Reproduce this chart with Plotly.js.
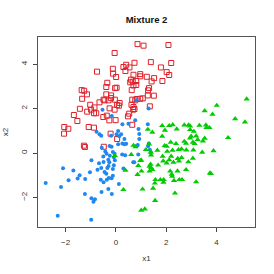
<!DOCTYPE html>
<html>
<head>
<meta charset="utf-8">
<script src="https://cdn.plot.ly/plotly-3.0.1.min.js"></script>
<style>html,body{margin:0;padding:0;background:#fff;}#chart{width:274px;height:274px;}</style>
</head>
<body>
<div id="chart"></div>
<script>
var redX = [0.86,1.10,2.09,-0.05,-0.75,-0.12,0.30,0.41,0.54,0.38,0.74,1.39,2.20,1.79,2.02,2.12,-0.11,0.01,0.97,0.97,1.23,1.52,1.42,1.85,0.70,0.60,0.57,0.67,0.81,-0.34,-0.38,-0.03,0.03,0.81,0.70,0.63,1.32,1.28,-1.36,-1.26,-1.15,-1.34,-0.19,-0.19,-0.38,-0.49,-0.29,-0.45,-0.04,-0.65,-1.02,-0.85,-0.99,-1.14,-1.43,-1.67,-1.53,-0.78,-0.87,-0.50,-0.36,-0.25,-0.26,-0.01,0.12,0.05,-0.05,0.15,0.48,0.53,0.62,0.65,0.77,0.83,0.97,1.07,1.27,1.51,1.35,0.74,0.69,0.70,0.65,-2.05,-1.89,-2.06,-1.08,-0.87,-0.21,0.05,-1.27,-1.23,-0.48];
var redY = [4.90,4.83,4.86,4.50,3.66,3.79,3.87,3.97,3.85,3.69,4.06,4.09,4.05,3.85,3.64,3.51,3.57,3.42,3.55,3.45,3.43,3.37,3.22,3.24,3.52,3.30,3.18,3.21,3.24,3.16,2.97,2.92,2.94,3.06,3.04,2.83,2.92,2.82,2.83,2.80,2.64,2.44,2.59,2.47,2.64,2.40,2.37,2.37,2.40,2.28,2.17,2.05,1.95,1.86,1.99,1.71,1.44,1.79,1.79,1.62,1.68,2.01,1.47,1.48,2.13,2.16,1.95,2.25,1.65,1.77,2.17,2.40,2.37,2.43,2.44,2.46,2.59,2.58,2.10,1.98,1.95,2.07,1.27,1.17,1.09,0.87,1.17,1.14,0.87,0.63,0.33,0.27,0.28];

var blueX = [-0.53,1.30,0.77,-0.16,0.50,0.26,1.27,0.90,-0.77,-0.65,-0.58,0.09,0.03,0.13,0.21,0.34,-0.19,0.93,0.93,0.26,0.34,0.41,0.09,0.82,0.87,-0.25,-0.17,-0.56,1.31,1.28,1.35,-0.42,-0.12,-0.37,-0.05,-0.50,-0.24,-0.08,0.25,0.37,0.89,1.39,-0.04,-0.30,-0.26,-0.67,-0.49,-0.97,0.69,0.73,-0.08,-0.29,-0.34,-0.58,-0.73,-0.12,0.30,-2.10,-1.69,-1.44,-1.52,-1.88,-1.22,-1.03,-0.45,-0.38,-0.60,-0.36,-0.28,-0.17,-0.12,-0.49,0.12,-2.79,-2.18,-1.23,-0.57,-0.30,-0.16,-0.97,-0.83,-0.89,-2.31,-0.98,0.82];
var blueY = [1.95,2.00,1.47,1.66,1.32,1.29,1.29,1.08,0.96,0.84,0.78,0.99,0.84,0.75,0.84,0.63,0.78,0.85,0.63,0.43,0.39,0.42,0.39,0.30,0.36,0.31,0.28,0.24,0.43,0.30,0.15,0.07,0.04,-0.03,-0.03,-0.16,-0.12,-0.19,-0.07,-0.10,-0.07,0.03,-0.33,-0.30,-0.42,-0.46,-0.40,-0.33,-0.42,-0.42,-0.55,-0.58,-0.67,-0.67,-0.75,-0.72,-0.70,-0.69,-0.79,-1.00,-1.15,-1.23,-1.17,-0.87,-0.85,-0.93,-1.20,-1.20,-1.12,-1.14,-1.02,-1.32,-1.39,-1.35,-1.53,-1.84,-1.75,-1.62,-1.84,-2.04,-2.08,-2.19,-2.82,-3.00,2.37];

var greenX = [5.20,4.01,3.53,3.84,4.74,5.13,2.72,2.26,1.84,2.12,2.89,2.95,3.32,3.58,3.60,3.72,1.27,1.45,1.95,2.42,2.95,3.10,1.84,3.19,2.99,2.95,4.46,3.46,3.53,3.25,3.06,3.13,2.79,2.72,2.39,2.18,0.70,0.78,1.32,1.94,2.02,2.80,3.08,3.43,3.88,1.19,1.39,1.65,2.25,2.49,2.61,2.04,-0.04,0.61,1.40,1.86,2.20,2.46,2.61,2.51,2.12,2.29,1.88,2.02,2.88,3.06,0.97,1.01,0.89,1.38,1.34,1.68,1.40,0.38,1.02,1.34,1.45,0.86,2.16,2.45,2.79,2.22,2.24,1.77,1.90,1.57,1.89,2.31,2.52,2.63,3.74,3.78,3.19,1.55,1.48,0.30,1.06,2.35,1.56,1.01,1.15];
var greenY = [2.43,2.14,1.90,1.74,1.54,1.39,1.26,1.27,1.23,1.23,1.26,1.21,1.24,1.26,1.14,1.14,1.06,0.93,1.02,1.08,1.05,0.97,0.75,0.76,0.75,0.67,0.69,0.54,0.66,0.60,0.48,0.42,0.43,0.52,0.42,0.48,0.34,0.28,0.40,0.33,0.30,0.13,0.13,0.03,0.10,0.15,0.03,0.12,0.12,0.15,0.18,0.07,-0.12,-0.07,-0.09,-0.15,-0.15,-0.25,-0.21,-0.36,-0.31,-0.42,-0.36,-0.45,-0.40,-0.24,-0.34,-0.33,-0.57,-0.51,-0.60,-0.55,-0.66,-0.78,-0.82,-0.82,-0.75,-0.97,-0.82,-0.81,-0.75,-0.96,-1.05,-1.20,-1.20,-1.20,-1.32,-1.24,-1.20,-1.20,-0.90,-0.93,-1.30,-1.36,-1.59,-1.65,-1.63,-1.81,-2.14,-2.58,-2.52];

var xTicks = [-2, 0, 2, 4];
var xTickText = ["\u22122", "0", "2", "4"];
var yTicks = [-2, 0, 2, 4];
var yTickText = ["\u22122", "0", "2", "4"];

var font = "Liberation Sans, Arial, sans-serif";

var traces = [
  {x: redX, y: redY, type: "scatter", mode: "markers", hoverinfo: "skip",
   marker: {symbol: "square-open", size: 5, color: "#E0202A", line: {width: 1, color: "#E0202A"}}},
  {x: blueX, y: blueY, type: "scatter", mode: "markers", hoverinfo: "skip",
   marker: {symbol: "circle", size: 4, color: "#1E88F0", line: {width: 0}}},
  {x: greenX, y: greenY, type: "scatter", mode: "markers", hoverinfo: "skip",
   marker: {symbol: "triangle-up", size: 5.5, color: "#00CC00", line: {width: 0}}}
];

var axisCommon = {
  showgrid: false, zeroline: false, showline: true, mirror: true,
  linecolor: "#555", linewidth: 1,
  ticks: "outside", ticklen: 4, tickcolor: "#444", tickwidth: 1,
  tickfont: {family: font, size: 8, color: "#333"}
};

var layout = {
  width: 274, height: 274,
  margin: {l: 38, r: 19, t: 37, b: 47},
  paper_bgcolor: "#fff", plot_bgcolor: "#fff",
  showlegend: false,
  title: {text: "<b>Mixture 2</b>", font: {family: font, size: 9.5, color: "#111"},
          x: 0.5, xref: "paper", y: 0.93, yref: "container", yanchor: "middle"},
  xaxis: Object.assign({}, axisCommon, {
    range: [-3.095, 5.53], tickmode: "array", tickvals: xTicks, ticktext: xTickText,
    ticklabelstandoff: 3,
    title: {text: "x1", font: {family: font, size: 8, color: "#333"}, standoff: 9}
  }),
  yaxis: Object.assign({}, axisCommon, {
    range: [-3.33, 5.22], tickmode: "array", tickvals: yTicks, ticktext: yTickText,
    tickangle: -90, ticklabelstandoff: 3,
    title: {text: "x2", font: {family: font, size: 8, color: "#333"}, standoff: 9}
  })
};

Plotly.newPlot("chart", traces, layout, {staticPlot: true, displayModeBar: false});
</script>
</body>
</html>
